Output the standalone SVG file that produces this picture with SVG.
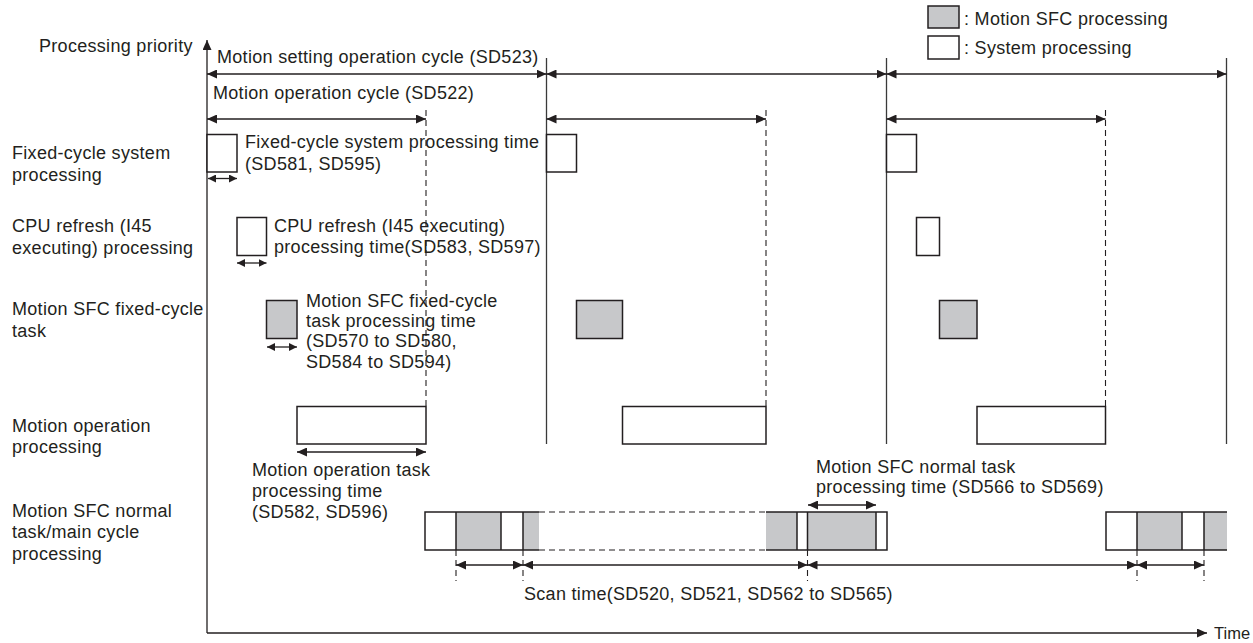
<svg xmlns="http://www.w3.org/2000/svg" width="1253" height="643" viewBox="0 0 1253 643">
<defs>
<marker id="ah" markerUnits="userSpaceOnUse" markerWidth="10" markerHeight="9" viewBox="0 0 10 9" refX="10" refY="4.5" orient="auto-start-reverse"><path d="M0,0 L10,4.5 L0,9 z" fill="#231f20"/></marker>
<marker id="as" markerUnits="userSpaceOnUse" markerWidth="8" markerHeight="8" viewBox="0 0 8 8" refX="8" refY="4" orient="auto-start-reverse"><path d="M0,0 L8,4 L0,8 z" fill="#231f20"/></marker>
</defs>
<style>
text{font-family:"Liberation Sans",Arial,sans-serif;font-size:18px;fill:#231f20;letter-spacing:0.3px}
.box{stroke:#231f20;stroke-width:1.5;fill:#fff}
.gbox{stroke:#231f20;stroke-width:1.5;fill:#c7c8ca}
.g{fill:#c7c8ca;stroke:none}
.ln{stroke:#231f20;stroke-width:1.5;fill:none}
.cyc{stroke:#3a3a3a;stroke-width:1.3;fill:none}
.dash{stroke:#231f20;stroke-width:1.1;stroke-dasharray:6 4;fill:none}
.arr{stroke:#231f20;stroke-width:1.3;fill:none;marker-start:url(#ah);marker-end:url(#ah)}
.sarr{stroke:#231f20;stroke-width:1.3;fill:none;marker-start:url(#as);marker-end:url(#as)}
.axis{stroke:#231f20;stroke-width:1.3;fill:none;marker-end:url(#ah)}
</style>
<rect width="1253" height="643" fill="#fff"/>

<g id="legend">
<rect class="gbox" x="928" y="6" width="31" height="22"/>
<text x="964" y="25">: Motion SFC processing</text>
<rect class="box" x="928" y="36" width="31" height="23"/>
<text x="964" y="54">: System processing</text>
</g>

<g id="axes">
<line class="axis" x1="207" y1="633" x2="207" y2="40"/>
<line class="axis" x1="207" y1="633" x2="1207" y2="633"/>
<text x="39" y="52">Processing priority</text>
<text x="1214" y="639" style="font-size:16.5px;letter-spacing:0">Time</text>
</g>

<g id="row-labels">
<text x="12" y="159">Fixed-cycle system</text>
<text x="12" y="181">processing</text>
<text x="12" y="232">CPU refresh (I45</text>
<text x="12" y="254">executing) processing</text>
<text x="12" y="315">Motion SFC fixed-cycle</text>
<text x="12" y="337">task</text>
<text x="12" y="432">Motion operation</text>
<text x="12" y="453">processing</text>
<text x="12" y="517">Motion SFC normal</text>
<text x="12" y="538">task/main cycle</text>
<text x="12" y="560">processing</text>
</g>

<g id="cycle-lines">
<line class="cyc" x1="546.5" y1="58" x2="546.5" y2="444"/>
<line class="cyc" x1="886.5" y1="58" x2="886.5" y2="444"/>
<line class="cyc" x1="1226.5" y1="58" x2="1226.5" y2="444"/>
<line class="dash" x1="426" y1="110" x2="426" y2="407"/>
<line class="dash" x1="766" y1="110" x2="766" y2="407"/>
<line class="dash" x1="1105.5" y1="110" x2="1105.5" y2="407"/>
</g>

<g id="fixed-cycle-system">
<rect class="box" x="207" y="134.5" width="30" height="37.5"/>
<rect class="box" x="546.5" y="134.5" width="30" height="37.5"/>
<rect class="box" x="886.5" y="134.5" width="30" height="37.5"/>
<text x="245" y="148">Fixed-cycle system processing time</text>
<text x="245" y="170">(SD581, SD595)</text>
</g>

<g id="cpu-refresh">
<rect class="box" x="237" y="217.5" width="29.5" height="38"/>
<rect class="box" x="916.5" y="217.5" width="23" height="38"/>
<text x="274" y="232">CPU refresh (I45 executing)</text>
<text x="274" y="253">processing time(SD583, SD597)</text>
</g>

<g id="sfc-fixed-task">
<rect class="gbox" x="266.5" y="300.5" width="30.5" height="38"/>
<rect class="gbox" x="576.5" y="300.5" width="46" height="38"/>
<rect class="gbox" x="939.5" y="300.5" width="37.5" height="38"/>
<text x="306" y="307">Motion SFC fixed-cycle</text>
<text x="306" y="327">task processing time</text>
<text x="306" y="347">(SD570 to SD580,</text>
<text x="306" y="368">SD584 to SD594)</text>
</g>

<g id="motion-operation">
<rect class="box" x="297" y="406.5" width="129" height="37.5"/>
<rect class="box" x="622.5" y="406.5" width="143.5" height="37.5"/>
<rect class="box" x="977" y="406.5" width="128.5" height="37.5"/>
<text x="252" y="476">Motion operation task</text>
<text x="252" y="497">processing time</text>
<text x="252" y="518">(SD582, SD596)</text>
</g>

<g id="sfc-normal-task">
<rect class="g" x="456" y="512" width="45" height="38"/>
<rect class="g" x="523" y="512" width="16" height="38"/>
<path class="ln" d="M539,512 H425 V550 H539"/>
<path class="ln" d="M456,512 V550 M501,512 V550 M523,512 V550"/>
<path class="dash" d="M539,512 H766 M539,550 H766"/>
<rect class="g" x="766" y="512" width="31" height="38"/>
<rect class="g" x="807.5" y="512" width="68.5" height="38"/>
<path class="ln" d="M766,512 H887 V550 H766"/>
<path class="ln" d="M797,512 V550 M807.5,512 V550 M876,512 V550"/>
<rect class="g" x="1137" y="512" width="45" height="38"/>
<rect class="g" x="1204" y="512" width="23" height="38"/>
<path class="ln" d="M1227,512 H1106 V550 H1227"/>
<path class="ln" d="M1137,512 V550 M1182,512 V550 M1204,512 V550"/>
<text x="816" y="473">Motion SFC normal task</text>
<text x="816" y="493">processing time (SD566 to SD569)</text>
<text x="524" y="600">Scan time(SD520, SD521, SD562 to SD565)</text>
</g>

<g id="connectors">
<text x="217" y="63">Motion setting operation cycle (SD523)</text>
<text x="213" y="99">Motion operation cycle (SD522)</text>
<line class="arr" x1="207" y1="74" x2="546.5" y2="74"/>
<line class="arr" x1="546.5" y1="74" x2="886.5" y2="74"/>
<line class="arr" x1="886.5" y1="74" x2="1226.5" y2="74"/>
<line class="arr" x1="207" y1="119" x2="426" y2="119"/>
<line class="arr" x1="546.5" y1="119" x2="766" y2="119"/>
<line class="arr" x1="886.5" y1="119" x2="1105.5" y2="119"/>
<line class="sarr" x1="208" y1="178.5" x2="237" y2="178.5"/>
<line class="sarr" x1="237" y1="263" x2="266.5" y2="263"/>
<line class="sarr" x1="267" y1="347" x2="297" y2="347"/>
<line class="arr" x1="297" y1="452" x2="426" y2="452"/>
<line class="arr" x1="808" y1="505" x2="876" y2="505"/>
<path class="dash" d="M456,550 V581 M523,550 V581 M807.5,550 V581 M1137,550 V581 M1204,550 V581"/>
<line class="arr" x1="456" y1="565" x2="523" y2="565"/>
<line class="arr" x1="523" y1="565" x2="807.5" y2="565"/>
<line class="arr" x1="807.5" y1="565" x2="1137" y2="565"/>
<line class="arr" x1="1137" y1="565" x2="1204" y2="565"/>
</g>
</svg>
